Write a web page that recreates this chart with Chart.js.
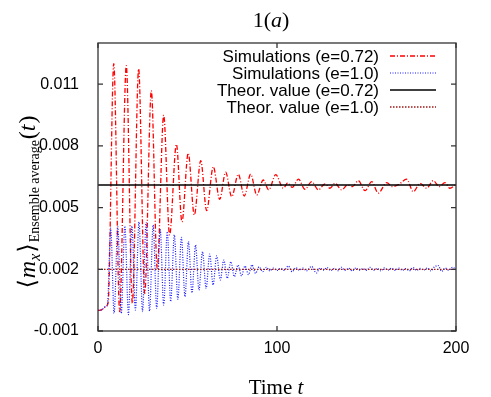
<!DOCTYPE html>
<html>
<head>
<meta charset="utf-8">
<script src="https://cdn.jsdelivr.net/npm/chart.js@4"></script>
<style>
  body { margin: 0; background: #fff; }
  #wrap { width: 491px; height: 397px; }
</style>
</head>
<body>
<div id="wrap"><canvas id="chart" width="491" height="397"></canvas></div>
<script>
// axis ticks
const xTicks = [0, 100, 200];
const yTicks = [-0.001, 0.002, 0.005, 0.008, 0.011];

// theoretical values
const theoryE072 = 0.0061;
const theoryE10 = 0.002;

// simulations, e=0.72  [t, <m_x>]
const simE072 = [
  [0, 0.0], [2, 0.00003], [4.6, 0.0002], [5.7, 0.0004], [8.8, 0.0120], [12.1, -0.00006],
  [15.8, 0.0119], [19.2, 0.00035], [22.7, 0.01174], [26.1, 0.00083], [29.8, 0.01068],
  [33.1, 0.00205], [36.7, 0.00949], [40.0, 0.00367], [43.8, 0.00808], [46.9, 0.00431],
  [50.4, 0.00765], [53.8, 0.00464], [57.4, 0.00728], [60.7, 0.00485], [64.4, 0.00699],
  [68.0, 0.0054], [71.3, 0.00672], [74.7, 0.00553], [78.4, 0.00662], [81.7, 0.00556],
  [85.3, 0.00662], [88.7, 0.00561], [92.3, 0.00634], [95.4, 0.00586], [99.3, 0.0066],
  [103.5, 0.00594], [106, 0.0062], [108.5, 0.00598], [112, 0.00638], [115.6, 0.00589],
  [119.4, 0.00626], [123.1, 0.00586], [126.8, 0.00615], [129.6, 0.00594], [132.4, 0.00618],
  [136.1, 0.00586], [139.5, 0.0061], [142.2, 0.00602], [145.4, 0.00631], [149.2, 0.00582],
  [152.9, 0.00626], [156.6, 0.0057], [161.3, 0.00621], [164.5, 0.00602], [168, 0.00612],
  [172.4, 0.00638], [176.2, 0.00577], [179.9, 0.00618], [183.6, 0.00594], [187.3, 0.00631],
  [190.6, 0.00602], [193.8, 0.00621], [196.6, 0.00594], [200, 0.00612]
];

// simulations, e=1.0  [t, <m_x>]
const simE10 = [
  [0, 0.0], [2, 0.00003], [4.5, 0.0002], [5.3, 0.00028], [7.1, 0.0040], [9.0, -0.00014],
  [11.05, 0.00407], [13.0, -0.00014], [15.0, 0.0041], [17.0, -0.0002], [18.95, 0.0041],
  [20.9, 0.00002], [22.9, 0.0043], [24.9, -0.00006], [26.85, 0.00427], [28.8, -0.00003],
  [30.8, 0.00415], [32.8, 0.0001], [34.75, 0.00394], [36.7, 0.00026], [38.7, 0.00383],
  [40.6, 0.00043], [42.65, 0.00367], [44.6, 0.00054], [46.6, 0.00355], [48.6, 0.00067],
  [50.55, 0.00335], [52.5, 0.00085], [54.5, 0.00318], [56.4, 0.00099], [58.4, 0.00286],
  [60.4, 0.00107], [62.4, 0.00274], [64.3, 0.00124], [66.3, 0.00265], [68.3, 0.00148],
  [70.3, 0.00245], [72.2, 0.00156], [74.2, 0.00237], [76.2, 0.00164], [78.2, 0.00221],
  [80.2, 0.00168], [82.1, 0.00216], [84.1, 0.00174], [86, 0.00222], [88, 0.0018],
  [90, 0.00212], [92, 0.00188], [94, 0.0021], [96, 0.00192], [98, 0.00206], [100, 0.00194],
  [102, 0.00204], [104, 0.00195], [106.3, 0.00216], [108.5, 0.00188], [110.5, 0.00208],
  [112.5, 0.00196], [114.5, 0.00206], [116.5, 0.00192], [119.3, 0.00214], [122, 0.00182],
  [124, 0.00206], [126, 0.00196], [128, 0.00208], [130, 0.00194], [132, 0.00204],
  [134, 0.00193], [136, 0.0021], [138, 0.00194], [140, 0.00205], [142, 0.00192],
  [144, 0.00206], [146, 0.00196], [148, 0.00203], [150, 0.00194], [152, 0.00209],
  [154, 0.00195], [156, 0.00204], [158, 0.00192], [160, 0.00207], [162, 0.00196],
  [164, 0.00205], [166, 0.00194], [168, 0.00206], [170, 0.00195], [172, 0.00203],
  [174, 0.00193], [176, 0.00208], [178, 0.00195], [180, 0.00204], [182, 0.00196],
  [184, 0.00206], [186, 0.00192], [188, 0.00212], [190, 0.00218], [192, 0.0019],
  [194, 0.00206], [196, 0.00195], [198, 0.0021], [200, 0.00198]
];

const toPoints = arr => arr.map(p => ({ x: p[0], y: p[1] }));
const flat = v => [{ x: xTicks[0], y: v }, { x: xTicks[xTicks.length - 1], y: v }];

const SERIF = '"Liberation Serif", "DejaVu Serif", serif';
const SANS = '"Liberation Sans", Arial, sans-serif';

// draws a row of text pieces with mixed fonts, centred on cx
function drawPieces(ctx, pieces, cx, baseY) {
  let total = 0;
  pieces.forEach(p => { ctx.font = p.f; p.w = ctx.measureText(p.t).width; total += p.w + (p.gap || 0); });
  let x = cx - total / 2;
  ctx.textAlign = 'left';
  ctx.textBaseline = 'alphabetic';
  pieces.forEach(p => {
    ctx.font = p.f;
    ctx.fillText(p.t, x, baseY + (p.dy || 0));
    x += p.w + (p.gap || 0);
  });
}

const decorations = {
  id: 'decorations',
  afterDraw(chart) {
    const ctx = chart.ctx;
    const a = chart.chartArea;
    const xs = chart.scales.x, ys = chart.scales.y;
    ctx.save();

    // frame
    ctx.strokeStyle = '#333';
    ctx.lineWidth = 1.3;
    ctx.setLineDash([]);
    ctx.strokeRect(a.left, a.top, a.right - a.left, a.bottom - a.top);

    // inward ticks, mirrored
    const tl = 5;
    ctx.beginPath();
    yTicks.forEach(v => {
      const y = ys.getPixelForValue(v);
      ctx.moveTo(a.left, y); ctx.lineTo(a.left + tl, y);
      ctx.moveTo(a.right, y); ctx.lineTo(a.right - tl, y);
    });
    xTicks.forEach(v => {
      const x = xs.getPixelForValue(v);
      ctx.moveTo(x, a.bottom); ctx.lineTo(x, a.bottom - tl);
      ctx.moveTo(x, a.top); ctx.lineTo(x, a.top + tl);
    });
    ctx.stroke();

    ctx.fillStyle = '#000';

    // title
    drawPieces(ctx, [
      { t: '1(', f: '22px ' + SERIF },
      { t: 'a', f: 'italic 22px ' + SERIF },
      { t: ')', f: '22px ' + SERIF }
    ], 271, 27);

    // x label
    drawPieces(ctx, [
      { t: 'Time ', f: '21px ' + SERIF },
      { t: 't', f: 'italic 21px ' + SERIF }
    ], 276, 394);

    // y label, rotated
    ctx.save();
    ctx.translate(35, 202);
    ctx.rotate(-Math.PI / 2);
    drawPieces(ctx, [
      { t: '\u27E8', f: '24px "DejaVu Serif", serif', gap: 1 },
      { t: 'm', f: 'italic 24px ' + SERIF },
      { t: 'x', f: 'italic 16px ' + SERIF, dy: 5, gap: 1 },
      { t: '\u27E9', f: '24px "DejaVu Serif", serif', gap: 1 },
      { t: 'Ensemble average', f: '14px ' + SERIF, dy: 4, gap: 1 },
      { t: '(', f: '24px ' + SERIF },
      { t: 't', f: 'italic 24px ' + SERIF, gap: 1 },
      { t: ')', f: '24px ' + SERIF }
    ], 0, 0);
    ctx.restore();

    // legend, text right aligned with sample on the right
    const rows = chart.data.datasets;
    ctx.font = '17px ' + SANS;
    ctx.textAlign = 'right';
    ctx.textBaseline = 'middle';
    rows.forEach((ds, i) => {
      const y = 57 + i * 17;
      ctx.fillStyle = '#000';
      ctx.fillText(ds.label, 379, y);
      ctx.beginPath();
      ctx.strokeStyle = ds.borderColor;
      ctx.lineWidth = ds.borderWidth;
      ctx.setLineDash(ds.borderDash || []);
      ctx.moveTo(390, y - 1);
      ctx.lineTo(436, y - 1);
      ctx.stroke();
    });
    ctx.restore();
  }
};

new Chart(document.getElementById('chart'), {
  type: 'line',
  data: {
    datasets: [
      {
        label: 'Simulations (e=0.72)',
        data: toPoints(simE072),
        borderColor: '#ff0000',
        borderWidth: 1.3,
        borderDash: [5, 2, 1, 2],
        cubicInterpolationMode: 'monotone',
        order: 4
      },
      {
        label: 'Simulations (e=1.0)',
        data: toPoints(simE10),
        borderColor: '#1a1aff',
        borderWidth: 1.2,
        borderDash: [1, 1.5],
        cubicInterpolationMode: 'monotone',
        order: 3
      },
      {
        label: 'Theor. value (e=0.72)',
        data: flat(theoryE072),
        borderColor: '#000000',
        borderWidth: 1.5,
        order: 2
      },
      {
        label: 'Theor. value (e=1.0)',
        data: flat(theoryE10),
        borderColor: '#a01818',
        borderWidth: 1.3,
        borderDash: [1.5, 1.5],
        order: 1
      }
    ]
  },
  options: {
    responsive: false,
    animation: false,
    parsing: true,
    elements: { point: { radius: 0 } },
    layout: { padding: { left: 0, right: 35, top: 43, bottom: 0 } },
    plugins: { legend: { display: false }, tooltip: { enabled: false } },
    scales: {
      x: {
        type: 'linear',
        min: 0,
        max: 200,
        afterBuildTicks: s => { s.ticks = xTicks.map(v => ({ value: v })); },
        afterFit: s => { s.height = 66; },
        grid: { display: false, drawTicks: false },
        border: { display: false },
        ticks: { color: '#000', font: { family: SANS, size: 16 }, padding: 8, maxRotation: 0,
                 callback: v => String(v) }
      },
      y: {
        type: 'linear',
        min: -0.001,
        max: 0.013,
        afterBuildTicks: s => { s.ticks = yTicks.map(v => ({ value: v })); },
        afterFit: s => { s.width = 98; },
        grid: { display: false, drawTicks: false },
        border: { display: false },
        ticks: { color: '#000', font: { family: SANS, size: 16 }, padding: 19,
                 callback: v => v.toFixed(3) }
      }
    }
  },
  plugins: [decorations]
});
</script>
</body>
</html>
